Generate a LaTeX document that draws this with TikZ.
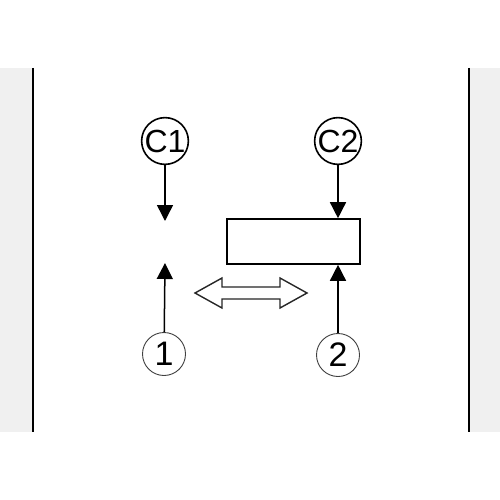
\documentclass[tikz,border=0pt]{standalone}
\usepackage{fontspec}
\setmainfont{Liberation Sans}
\usetikzlibrary{arrows.meta}
\begin{document}
\begin{tikzpicture}[x=1pt,y=-1pt,
  lbl/.style={circle,draw,line width=1.6pt,minimum size=46pt,inner sep=0pt,font=\fontsize{32}{32}\selectfont},
  num/.style={circle,draw=black!75,line width=0.9pt,minimum size=43pt,inner sep=0pt,font=\fontsize{34}{34}\selectfont},
  arr/.style={line width=1.5pt,-{Triangle[length=16pt,width=16pt]}},
  wall/.style={line width=2pt},
  panel/.style={fill=black!6},
  box/.style={draw,line width=1.6pt,minimum width=133pt,minimum height=45pt,inner sep=0pt}]
\useasboundingbox (0,0) rectangle (500,500);
\fill[white] (0,0) rectangle (500,500);
\fill[panel] (0,68) rectangle (32,432);
\fill[panel] (469,68) rectangle (500,432);
\draw[wall] (32.5,68) -- (32.5,432);
\draw[wall] (468.5,68) -- (468.5,432);
\node[lbl] (c1) at (165,141) {C1};
\node[lbl] (c2) at (338,141) {C2};
\node[num] (n1) at (164,354) {1};
\node[num] (n2) at (338,355) {2};
\node[box] (r) at (293.5,241.5) {};
\coordinate (t1) at (165,221);
\coordinate (t2) at (165,263);
\draw[arr] (c1) -- (t1);
\draw[arr] (n1) -- (t2);
\draw[arr] (c2) -- (c2 |- r.north);
\draw[arr] (n2) -- (n2 |- r.south);
\draw[line width=1.4pt,draw=black!85,fill=white]
  (195,293) -- (222,278) -- (222,287) -- (280,287) -- (280,278) -- (307,293)
  -- (280,308) -- (280,299) -- (222,299) -- (222,308) -- cycle;
\end{tikzpicture}
\end{document}
